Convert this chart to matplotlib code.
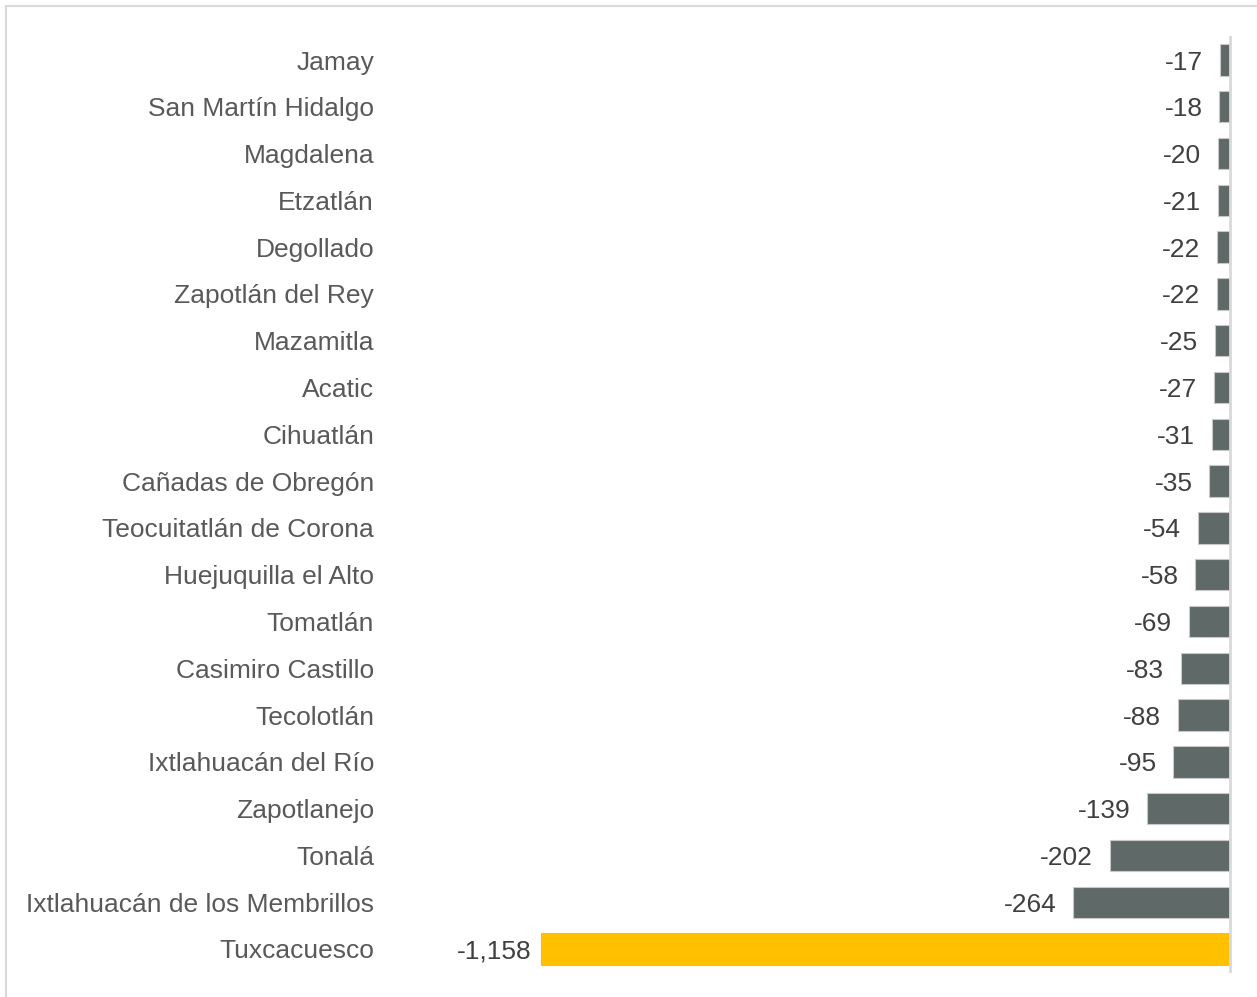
import matplotlib
matplotlib.use("Agg")
import matplotlib.pyplot as plt
from matplotlib.patches import Rectangle

categories = ["Jamay", "San Martín Hidalgo", "Magdalena", "Etzatlán", "Degollado",
              "Zapotlán del Rey", "Mazamitla", "Acatic", "Cihuatlán", "Cañadas de Obregón",
              "Teocuitatlán de Corona", "Huejuquilla el Alto", "Tomatlán", "Casimiro Castillo",
              "Tecolotlán", "Ixtlahuacán del Río", "Zapotlanejo", "Tonalá",
              "Ixtlahuacán de los Membrillos", "Tuxcacuesco"]
values = [-17, -18, -20, -21, -22, -22, -25, -27, -31, -35, -54, -58, -69, -83, -88,
          -95, -139, -202, -264, -1158]
highlight = "Tuxcacuesco"

plt.rcParams['font.family'] = ['Liberation Sans', 'DejaVu Sans']

W, H = 1257, 997
fig = plt.figure(figsize=(W / 100, H / 100), dpi=100)

# figure frame
fig.patches.append(Rectangle((6 / W, -0.01), 1.05, (H - 6) / H + 0.01, transform=fig.transFigure,
                             fill=False, edgecolor='#D9D9D9', linewidth=1.5))

ax_left, ax_right, ax_top, ax_bottom = 390, 1240, 36, 973
ax = fig.add_axes([ax_left / W, (H - ax_bottom) / H, (ax_right - ax_left) / W, (ax_bottom - ax_top) / H])

ppu = 689 / 1158.0
zero_px = 1230
ax.set_xlim(-(zero_px - ax_left) / ppu, (ax_right - zero_px) / ppu)
n = len(categories)
ax.set_ylim(n - 1 + 0.513, -0.513)

ypos = list(range(n))
colors = ['#FFC000' if c == highlight else '#5F6968' for c in categories]
edges = ['#FFC000' if c == highlight else '#C8C8C8' for c in categories]
ax.barh(ypos, values, height=0.67, color=colors, edgecolor=edges, linewidth=0.8, zorder=2)

ax.axvline(0, color='#D9D9D9', linewidth=2, zorder=3)

for c, y, v in zip(categories, ypos, values):
    off = -6.5 if c == highlight else -12
    ax.annotate(f"{v:,}", xy=(v, y), xytext=(off, 0), textcoords='offset points',
                ha='right', va='center_baseline', fontsize=19, color='#404040')

ax.set_yticks(ypos)
ax.set_yticklabels(categories, fontsize=19, color='#595959', va='center_baseline')
ax.tick_params(axis='y', length=0, pad=11.5)
ax.set_xticks([])
for s in ax.spines.values():
    s.set_visible(False)

fig.savefig("out.png", dpi=100)
